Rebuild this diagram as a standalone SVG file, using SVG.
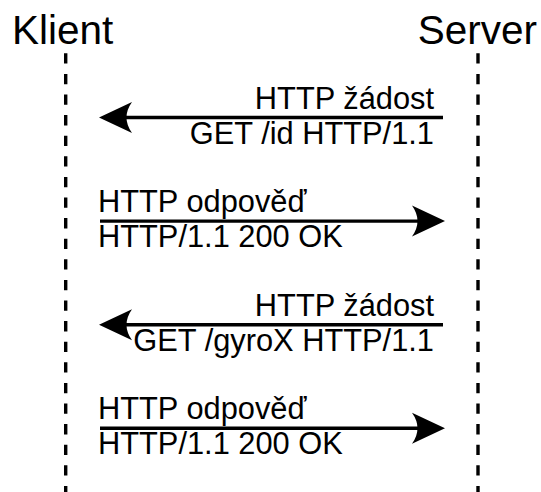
<svg xmlns="http://www.w3.org/2000/svg" width="541" height="492" viewBox="0 0 541 492">
<style>
.hdr{font-family:"Liberation Sans",Arial,sans-serif;font-size:40.5px;fill:#000}
.lbl{font-family:"Liberation Sans",Arial,sans-serif;font-size:30.8px;fill:#000}
.life{stroke:#000;stroke-width:3.4;stroke-dasharray:10.3 10.3;fill:none}
.msg{stroke:#000;stroke-width:3.4;fill:none}
.head{fill:#000;stroke:none}
</style>
<rect width="541" height="492" fill="#fff"/>
<g id="klient">
<text class="hdr" x="12" y="43.5">Klient</text>
<line class="life" x1="65.7" y1="53.3" x2="65.7" y2="492"/>
</g>
<g id="server">
<text class="hdr" x="537" y="43.5" text-anchor="end">Server</text>
<line class="life" x1="478" y1="53.3" x2="478" y2="492"/>
</g>
<g id="connectors">
<g id="req1">
<line class="msg" x1="443" y1="117.5" x2="118" y2="117.5"/>
<path class="head" d="M99,117.5 L132,102 Q121,117.5 132,133 Z"/>
<text class="lbl" x="434" y="108.5" text-anchor="end">HTTP žádost</text>
<text class="lbl" x="434" y="143.5" text-anchor="end">GET /id HTTP/1.1</text>
</g>
<g id="resp1">
<line class="msg" x1="100" y1="221.1" x2="426" y2="221.1"/>
<path class="head" d="M445,221.1 L412,205.6 Q423,221.1 412,236.6 Z"/>
<text class="lbl" x="98" y="212.1">HTTP odpověď</text>
<text class="lbl" x="98" y="247.1">HTTP/1.1 200 OK</text>
</g>
<g id="req2">
<line class="msg" x1="443" y1="324.7" x2="118" y2="324.7"/>
<path class="head" d="M99,324.7 L132,309.2 Q121,324.7 132,340.2 Z"/>
<text class="lbl" x="434" y="315.7" text-anchor="end">HTTP žádost</text>
<text class="lbl" x="434" y="350.7" text-anchor="end">GET /gyroX HTTP/1.1</text>
</g>
<g id="resp2">
<line class="msg" x1="100" y1="428.3" x2="426" y2="428.3"/>
<path class="head" d="M445,428.3 L412,412.8 Q423,428.3 412,443.8 Z"/>
<text class="lbl" x="98" y="419.3">HTTP odpověď</text>
<text class="lbl" x="98" y="454.3">HTTP/1.1 200 OK</text>
</g>
</g>
</svg>
